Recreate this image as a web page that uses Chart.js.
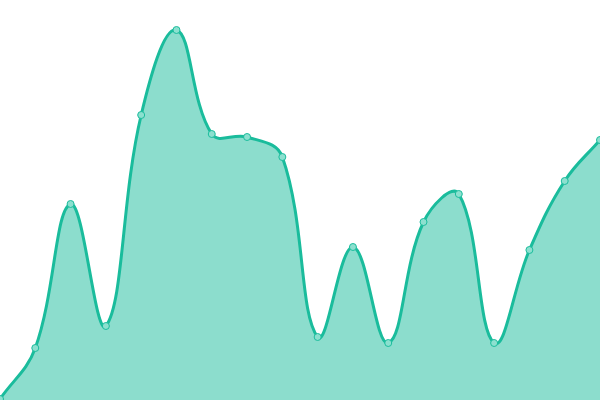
<!DOCTYPE html>
<html>
<head>
<meta charset="utf-8">
<script src="https://cdn.jsdelivr.net/npm/chart.js@4/dist/chart.umd.min.js"></script>
<style>
html,body{margin:0;padding:0;background:#fff;}
#wrap{width:600px;height:400px;}
</style>
</head>
<body>
<div id="wrap"><canvas id="c"></canvas></div>
<script>
const labels = ['1','2','3','4','5','6','7','8','9','10','11','12','13','14','15','16','17','18'];
const values = [1, 52, 196, 74, 285, 370, 266, 263, 243, 63, 153, 57, 178, 206, 57, 150, 219, 260];
const yMin = 0;
const yMax = 400;

new Chart(document.getElementById('c'), {
  type: 'line',
  data: {
    labels: labels,
    datasets: [{
      data: values,
      fill: 'origin',
      backgroundColor: 'rgba(26,188,156,0.5)',
      borderColor: '#1abc9c',
      borderWidth: 3,
      tension: 0.4,
      pointRadius: 3.5,
      pointBorderWidth: 1,
      pointBackgroundColor: '#8ce0cf',
      pointBorderColor: '#1abc9c'
    }]
  },
  options: {
    responsive: true,
    maintainAspectRatio: false,
    animation: false,
    layout: { padding: 0, autoPadding: false },
    plugins: { legend: { display: false }, tooltip: { enabled: false } },
    scales: {
      x: { display: false, offset: false },
      y: { display: false, min: yMin, max: yMax }
    }
  }
});
</script>
</body>
</html>
